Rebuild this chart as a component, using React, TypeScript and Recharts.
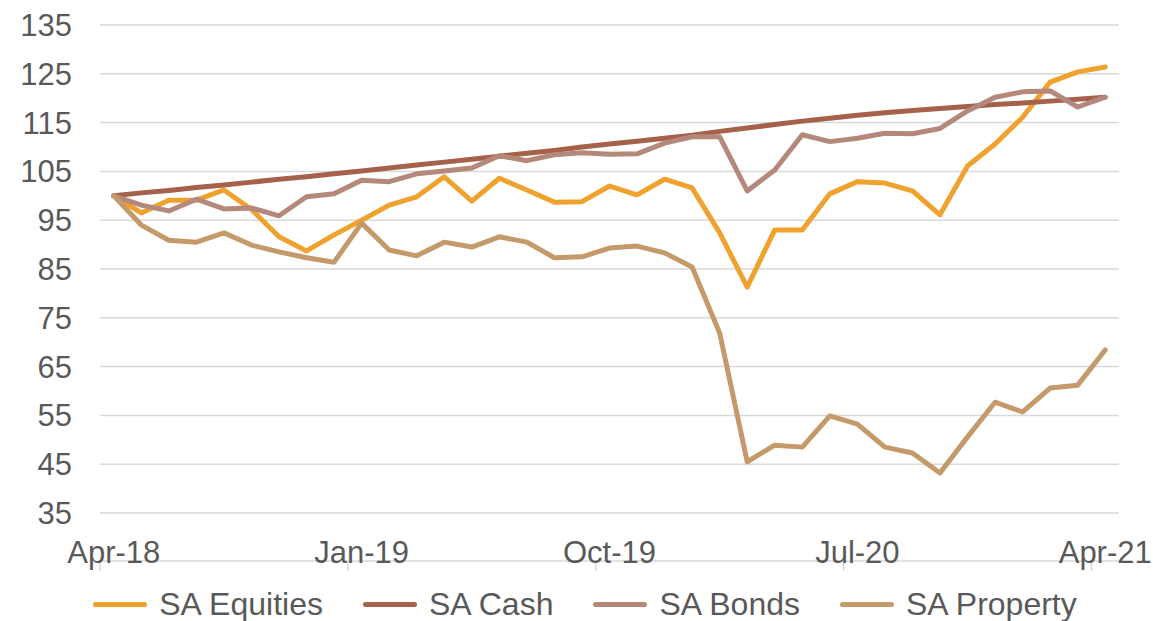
import React from 'react';
import {
  LineChart,
  Line,
  XAxis,
  YAxis,
  CartesianGrid,
  Legend,
} from 'recharts';

// monthly index values, Apr-18 .. Apr-21 (base 100)
const equities = [
  100.0, 96.5, 99.1, 99.1, 101.2, 97.2, 91.6, 88.7, 92.0, 95.0, 98.1, 99.8,
  103.9, 98.9, 103.6, 101.2, 98.7, 98.8, 102.0, 100.2, 103.4, 101.6, 92.4, 81.3,
  93.0, 93.0, 100.4, 102.9, 102.6, 101.0, 96.1, 106.1, 110.6, 116.1, 123.3, 125.4,
  126.4,
];
const cash = [
  100.0, 100.6, 101.1, 101.7, 102.2, 102.8, 103.4, 103.9, 104.5, 105.1, 105.7, 106.3,
  106.9, 107.5, 108.1, 108.7, 109.3, 110.0, 110.6, 111.2, 111.8, 112.4, 113.2, 113.9,
  114.6, 115.3, 115.9, 116.5, 117.0, 117.5, 117.9, 118.3, 118.7, 119.0, 119.4, 119.8,
  120.2,
];
const bonds = [
  100.0, 98.1, 96.9, 99.3, 97.3, 97.5, 95.9, 99.8, 100.4, 103.2, 102.9, 104.5,
  105.1, 105.7, 108.2, 107.2, 108.4, 108.8, 108.5, 108.6, 110.8, 112.1, 112.1, 101.0,
  105.3, 112.5, 111.1, 111.8, 112.8, 112.7, 113.8, 117.4, 120.2, 121.3, 121.5, 118.2,
  120.2,
];
const property = [
  100.0, 94.0, 90.9, 90.5, 92.4, 89.9, 88.5, 87.3, 86.4, 94.4, 88.9, 87.7,
  90.5, 89.5, 91.6, 90.5, 87.3, 87.5, 89.3, 89.7, 88.3, 85.4, 71.9, 45.5,
  48.9, 48.5, 54.9, 53.2, 48.5, 47.3, 43.2, 50.6, 57.7, 55.7, 60.6, 61.2,
  68.4,
];

const tickLabels = ['Apr-18', 'Jan-19', 'Oct-19', 'Jul-20', 'Apr-21'];
const tickMonths = [0, 9, 18, 27, 36];
const yTicks = [35, 45, 55, 65, 75, 85, 95, 105, 115, 125, 135];

const series = [
  { key: 'equities', name: 'SA Equities', color: '#F0A22E' },
  { key: 'cash', name: 'SA Cash', color: '#A5614A' },
  { key: 'bonds', name: 'SA Bonds', color: '#B5887C' },
  { key: 'property', name: 'SA Property', color: '#C49A6B' },
];

// points sit in the middle of each month slot
const chartData = equities.map((v, i) => ({
  x: i + 0.5,
  equities: v,
  cash: cash[i],
  bonds: bonds[i],
  property: property[i],
}));

const FONT = '"Liberation Sans", Arial, sans-serif';
const TEXT = '#595959';
const GRID = '#D9D9D9';

const LegendContent = () => (
  <div
    style={{
      height: 50,
      paddingTop: 17,
      boxSizing: 'border-box',
      display: 'flex',
      justifyContent: 'center',
      alignItems: 'flex-start',
      paddingLeft: 51,
      fontFamily: FONT,
      fontSize: 32,
      color: TEXT,
    }}
  >
    {series.map((s) => (
      <div
        key={s.key}
        style={{ display: 'flex', alignItems: 'center', margin: '0 20px', height: 33 }}
      >
        <div
          style={{
            width: 54,
            height: 5,
            borderRadius: 3,
            background: s.color,
            marginRight: 12,
          }}
        />
        <span style={{ lineHeight: '33px' }}>{s.name}</span>
      </div>
    ))}
  </div>
);

export default function App() {
  return (
    <div style={{ position: 'absolute', left: 0, top: 0 }}>
      <LineChart
        width={1153}
        height={621}
        data={chartData}
        margin={{ top: 25, right: 34, bottom: 0, left: 0 }}
      >
        <CartesianGrid vertical={false} stroke={GRID} strokeWidth={1.5} xAxisId="main" />
        <XAxis
          xAxisId="main"
          dataKey="x"
          type="number"
          domain={[0, 37]}
          ticks={tickMonths}
          tickFormatter={() => ''}
          tickSize={10}
          height={10}
          stroke={GRID}
          strokeWidth={1.5}
        />
        <XAxis
          xAxisId="labels"
          dataKey="x"
          type="number"
          domain={[0, 37]}
          ticks={tickMonths.map((m) => m + 0.5)}
          tickFormatter={(v: number) => tickLabels[tickMonths.indexOf(v - 0.5)] ?? ''}
          axisLine={false}
          tickLine={false}
          tickSize={0}
          tickMargin={28}
          height={48}
          tick={{ fill: TEXT, fontSize: 31, fontFamily: FONT }}
        />
        <YAxis
          domain={[35, 135]}
          ticks={yTicks}
          width={100}
          axisLine={false}
          tickLine={false}
          tickMargin={22}
          tick={{ fill: TEXT, fontSize: 31, fontFamily: FONT }}
        />
        <Legend verticalAlign="bottom" height={50} content={<LegendContent />} />
        {series.map((s) => (
          <Line
            key={s.key}
            xAxisId="main"
            type="linear"
            dataKey={s.key}
            name={s.name}
            stroke={s.color}
            strokeWidth={5}
            strokeLinecap="round"
            strokeLinejoin="round"
            dot={false}
            activeDot={false}
            isAnimationActive={false}
          />
        ))}
      </LineChart>
    </div>
  );
}
